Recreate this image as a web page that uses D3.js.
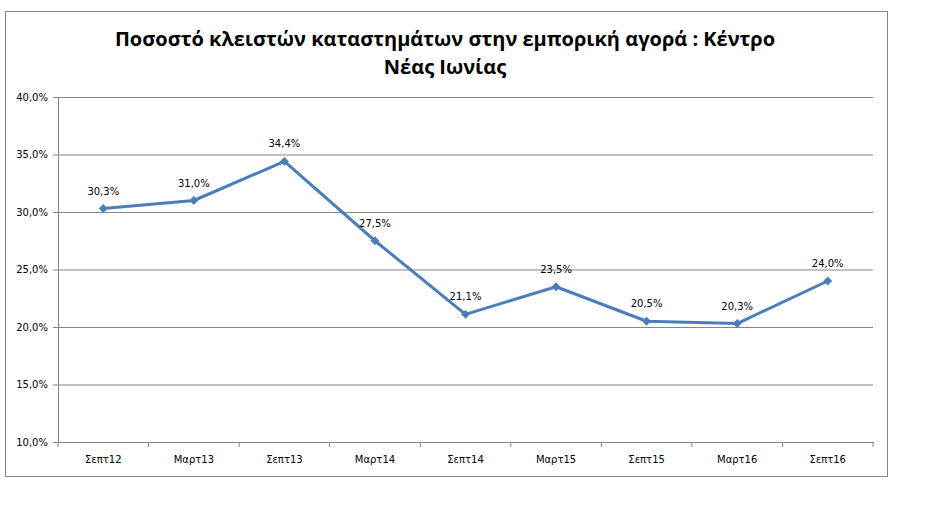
<!DOCTYPE html>
<html>
<head>
<meta charset="utf-8">
<script src="https://cdn.jsdelivr.net/npm/d3@7"></script>
<style>
  body { margin: 0; background: #fff; }
  svg { display: block; }
</style>
</head>
<body>
<svg id="chart" width="934" height="506"></svg>
<script>
// values
var periods = ["Σεπτ12", "Μαρτ13", "Σεπτ13", "Μαρτ14", "Σεπτ14", "Μαρτ15", "Σεπτ15", "Μαρτ16", "Σεπτ16"];
var closedShare = [30.3, 31.0, 34.4, 27.5, 21.1, 23.5, 20.5, 20.3, 24.0];
var yTicks = [10, 15, 20, 25, 30, 35, 40];
var titleLines = ["Ποσοστό κλειστών καταστημάτων στην εμπορική αγορά : Κέντρο", "Νέας Ιωνίας"];

var svg = d3.select("#chart");
var plot = { left: 58, top: 97, right: 873, bottom: 442 };
var fmt = function(v) { return v.toFixed(1).replace(".", ",") + "%"; };

// chart frame
svg.append("rect")
  .attr("x", 5.5).attr("y", 11.5)
  .attr("width", 882).attr("height", 465)
  .attr("fill", "#fff").attr("stroke", "#868686").attr("stroke-width", 1);

svg.append("g").selectAll("text")
  .data(titleLines)
  .enter().append("text")
  .attr("x", 445)
  .attr("y", function(d, i) { return 46 + i * 28; })
  .attr("text-anchor", "middle")
  .attr("font-family", "'Open Sans', sans-serif")
  .attr("font-weight", "bold")
  .attr("font-size", 20)
  .attr("fill", "#000")
  .text(function(d) { return d; });

var x = d3.scaleBand().domain(periods).range([plot.left, plot.right]);
var y = d3.scaleLinear().domain([10, 40]).range([plot.bottom, plot.top]);

// horizontal gridlines
svg.append("g")
  .attr("transform", "translate(" + plot.left + ",0)")
  .call(d3.axisLeft(y).tickValues(yTicks).tickSize(-(plot.right - plot.left)).tickFormat(""))
  .call(function(g) {
    g.select(".domain").remove();
    g.selectAll("line").attr("stroke", "#868686");
  });

// y axis
svg.append("g")
  .attr("transform", "translate(" + plot.left + ",0)")
  .call(d3.axisLeft(y).tickValues(yTicks).tickSize(5).tickPadding(5).tickFormat(fmt))
  .call(function(g) {
    g.select(".domain").attr("stroke", "#868686");
    g.selectAll("line").attr("stroke", "#868686");
    g.selectAll("text").attr("font-family", "'DejaVu Sans', sans-serif").attr("font-size", 10).attr("fill", "#000");
  });

// x axis with ticks on band edges
var xAxis = svg.append("g")
  .attr("transform", "translate(0," + plot.bottom + ")")
  .call(d3.axisBottom(x).tickSize(0).tickPadding(14))
  .call(function(g) {
    g.select(".domain").attr("stroke", "#868686");
    g.selectAll("text").attr("font-family", "'DejaVu Sans', sans-serif").attr("font-size", 10).attr("fill", "#000");
  });
xAxis.selectAll(".edge")
  .data(periods.concat([null]))
  .enter().append("line")
  .attr("x1", function(d, i) { return plot.left + i * x.bandwidth(); })
  .attr("x2", function(d, i) { return plot.left + i * x.bandwidth(); })
  .attr("y1", 0).attr("y2", 5)
  .attr("stroke", "#868686");

var cx = function(d, i) { return x(periods[i]) + x.bandwidth() / 2; };

var line = d3.line()
  .x(cx)
  .y(function(d) { return y(d); });

svg.append("path")
  .datum(closedShare)
  .attr("d", line)
  .attr("fill", "none")
  .attr("stroke", "#4A7EBB")
  .attr("stroke-width", 3)
  .attr("stroke-linejoin", "round");

// square diamonds like excel markers
svg.append("g").selectAll("path")
  .data(closedShare)
  .enter().append("path")
  .attr("d", d3.symbol().type(d3.symbolSquare).size(40))
  .attr("transform", function(d, i) { return "translate(" + cx(d, i) + "," + y(d) + ") rotate(45)"; })
  .attr("fill", "#4A7EBB");

svg.append("g").selectAll("text")
  .data(closedShare)
  .enter().append("text")
  .attr("x", cx)
  .attr("y", function(d) { return y(d) - 14; })
  .attr("text-anchor", "middle")
  .attr("font-family", "'DejaVu Sans', sans-serif")
  .attr("font-size", 10)
  .attr("fill", "#000")
  .text(fmt);
</script>
</body>
</html>
